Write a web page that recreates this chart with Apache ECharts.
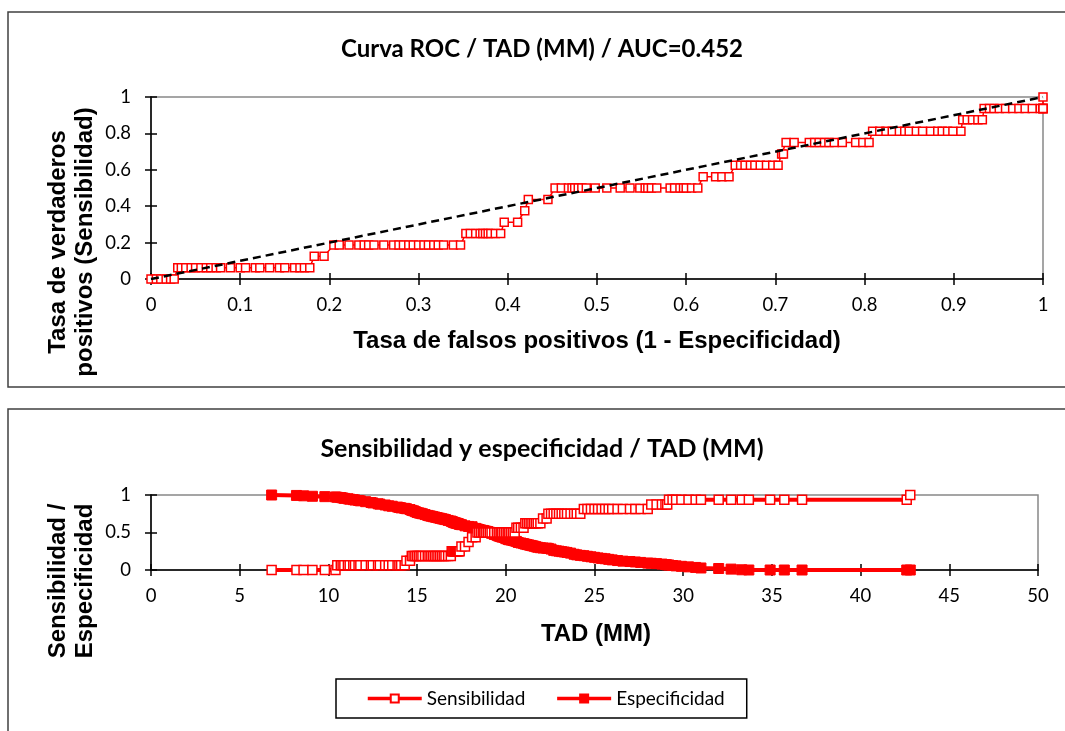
<!DOCTYPE html>
<html><head><meta charset="utf-8">
<script src="https://cdn.jsdelivr.net/npm/echarts@6/dist/echarts.min.js"></script>
<style>html,body{margin:0;padding:0;background:#fff}#c{width:1065px;height:731px}</style>
</head><body><div id="c"></div>
<script>
// TAD threshold (MM) for each cut point
const tad = [
  6.8, 8.2, 8.6, 9.1, 9.8, 10.4,
  10.5, 10.7, 10.8, 10.9, 11.1, 11.2, 11.4, 11.5, 11.7, 11.8, 12.1, 12.4, 12.5, 12.8, 12.9, 13.2, 13.4, 13.6, 13.9, 14.0, 14.1, 14.3,
  14.4, 14.6,
  14.7, 14.8, 14.9, 15.0, 15.1, 15.2, 15.3, 15.45, 15.6, 15.7, 15.8, 15.9, 16.0, 16.1, 16.2, 16.3, 16.4, 16.5, 16.6, 16.75, 16.9,
  16.95, 17.0, 17.05, 17.1, 17.15, 17.2, 17.25, 17.3, 17.35, 17.4,
  17.5, 17.7,
  17.9,
  18.1, 18.3,
  18.4, 18.5, 18.6, 18.7, 18.75, 18.8, 18.9, 19.0, 19.1, 19.2, 19.35, 19.5, 19.6, 19.7, 19.75, 19.8, 19.9, 20.0, 20.1, 20.15, 20.2, 20.3, 20.4, 20.5,
  20.6, 20.7, 20.85, 21.0,
  21.1, 21.2, 21.3, 21.4, 21.5, 21.6, 21.7, 21.8, 21.95,
  22.1, 22.3,
  22.4, 22.55, 22.7, 22.85, 23.0, 23.15, 23.3, 23.45, 23.65, 23.85, 24.0, 24.2,
  24.4, 24.6, 24.8, 25.0, 25.2, 25.4, 25.6, 25.8, 26.0, 26.3, 26.6, 27.0, 27.3, 27.6, 28.0,
  28.2, 28.5, 28.8, 29.0, 29.1,
  29.2, 29.4, 29.6, 29.9, 30.3, 30.7, 31.0, 32.0, 32.7, 33.3, 33.7, 34.9, 35.7, 36.7, 42.6,
  42.8
];
const sens = [
  0, 0, 0, 0, 0, 0,
  0.0625, 0.0625, 0.0625, 0.0625, 0.0625, 0.0625, 0.0625, 0.0625, 0.0625, 0.0625, 0.0625, 0.0625, 0.0625, 0.0625, 0.0625, 0.0625, 0.0625, 0.0625, 0.0625, 0.0625, 0.0625, 0.0625,
  0.125, 0.125,
  0.1875, 0.1875, 0.1875, 0.1875, 0.1875, 0.1875, 0.1875, 0.1875, 0.1875, 0.1875, 0.1875, 0.1875, 0.1875, 0.1875, 0.1875, 0.1875, 0.1875, 0.1875, 0.1875, 0.1875, 0.1875,
  0.25, 0.25, 0.25, 0.25, 0.25, 0.25, 0.25, 0.25, 0.25, 0.25,
  0.3125, 0.3125,
  0.375,
  0.4375, 0.4375,
  0.5, 0.5, 0.5, 0.5, 0.5, 0.5, 0.5, 0.5, 0.5, 0.5, 0.5, 0.5, 0.5, 0.5, 0.5, 0.5, 0.5, 0.5, 0.5, 0.5, 0.5, 0.5, 0.5, 0.5,
  0.5625, 0.5625, 0.5625, 0.5625,
  0.625, 0.625, 0.625, 0.625, 0.625, 0.625, 0.625, 0.625, 0.625,
  0.6875, 0.6875,
  0.75, 0.75, 0.75, 0.75, 0.75, 0.75, 0.75, 0.75, 0.75, 0.75, 0.75, 0.75,
  0.8125, 0.8125, 0.8125, 0.8125, 0.8125, 0.8125, 0.8125, 0.8125, 0.8125, 0.8125, 0.8125, 0.8125, 0.8125, 0.8125, 0.8125,
  0.875, 0.875, 0.875, 0.875, 0.875,
  0.9375, 0.9375, 0.9375, 0.9375, 0.9375, 0.9375, 0.9375, 0.9375, 0.9375, 0.9375, 0.9375, 0.9375, 0.9375, 0.9375, 0.9375,
  1
];
const spec = [
  1, 0.994, 0.989, 0.983, 0.978, 0.974,
  0.97, 0.966, 0.961, 0.955, 0.95, 0.944, 0.938, 0.933, 0.927, 0.922, 0.911, 0.9, 0.894, 0.883, 0.878, 0.867, 0.856, 0.85, 0.839, 0.833, 0.828, 0.822,
  0.817, 0.806,
  0.795, 0.789, 0.778, 0.767, 0.761, 0.756, 0.75, 0.739, 0.728, 0.722, 0.717, 0.711, 0.706, 0.7, 0.694, 0.689, 0.683, 0.678, 0.672, 0.661, 0.653,
  0.647, 0.642, 0.636, 0.631, 0.628, 0.625, 0.622, 0.619, 0.614, 0.608,
  0.604, 0.589,
  0.581,
  0.577, 0.555,
  0.547, 0.54, 0.532, 0.528, 0.525, 0.521, 0.517, 0.512, 0.502, 0.489, 0.474, 0.463, 0.452, 0.446, 0.443, 0.439, 0.433, 0.418, 0.413, 0.407, 0.403, 0.4, 0.394, 0.387,
  0.381, 0.367, 0.36, 0.352,
  0.345, 0.339, 0.334, 0.328, 0.323, 0.317, 0.31, 0.303, 0.297,
  0.293, 0.291,
  0.288, 0.279, 0.262, 0.256, 0.251, 0.245, 0.24, 0.234, 0.225, 0.21, 0.202, 0.195,
  0.191, 0.183, 0.176, 0.169, 0.161, 0.155, 0.15, 0.142, 0.135, 0.126, 0.118, 0.113, 0.107, 0.101, 0.092,
  0.09, 0.085, 0.079, 0.073, 0.068,
  0.066, 0.06, 0.055, 0.049, 0.042, 0.034, 0.027, 0.02, 0.012, 0.003, 0, 0, 0, 0, 0,
  0
];
const diagX = [0, 1];
const diagY = [0, 1];
const rocTitle = 'Curva ROC / TAD (MM) / AUC=0.452';
const ssTitle = 'Sensibilidad y especificidad / TAD (MM)';
const seriesNames = ['Sensibilidad', 'Especificidad'];

const RED = '#ff0000';
const tickFont = 'Lato';
const fmt = v => String(Number(v.toFixed(2)));

function axisPair(kind, grid, min, max, interval, labelMargin) {
  const main = {
    type: 'value', gridIndex: grid, min, max, interval,
    axisLine: { show: true, onZero: false, lineStyle: { color: '#000', width: 1.5 } },
    axisTick: { show: true, inside: false, length: 6, lineStyle: { color: '#000', width: 1.5 } },
    axisLabel: { show: true, margin: labelMargin, color: '#000', fontFamily: tickFont, fontSize: 18.5, formatter: fmt },
    splitLine: { show: false }
  };
  const inner = {
    type: 'value', gridIndex: grid, min, max, interval,
    position: kind === 'x' ? 'bottom' : 'left',
    axisLine: { show: false, onZero: false },
    axisTick: { show: true, inside: true, length: 6, lineStyle: { color: '#000', width: 1.5 } },
    axisLabel: { show: false },
    splitLine: { show: false }
  };
  return [main, inner];
}

const xAxes = [
  ...axisPair('x', 0, 0, 1, 0.1, 17),
  ...axisPair('x', 1, 0, 50, 5, 17)
];
const yAxes = [
  ...axisPair('y', 0, 0, 1, 0.2, 20),
  ...axisPair('y', 1, 0, 1, 0.5, 20)
];

const rocData = spec.map((s, i) => [Number((1 - s).toFixed(4)), sens[i]]);
const diagData = diagX.map((x, i) => [x, diagY[i]]);
const sensData = tad.map((t, i) => [t, sens[i]]);
const specData = tad.map((t, i) => [t, spec[i]]);

const chart = echarts.init(document.getElementById('c'));
chart.setOption({
  animation: false,
  backgroundColor: '#fff',
  grid: [
    { left: 151, right: 22, top: 97, height: 182, show: true, borderColor: '#888', borderWidth: 1.5, backgroundColor: 'transparent' },
    { left: 151, right: 27, top: 495, height: 75, show: true, borderColor: '#888', borderWidth: 1.5, backgroundColor: 'transparent' }
  ],
  xAxis: xAxes,
  yAxis: yAxes,
  legend: {
    data: seriesNames,
    left: 336, top: 679,
    padding: [10, 22, 10, 30],
    itemGap: 30, itemWidth: 54, itemHeight: 10,
    borderColor: '#000', borderWidth: 1.5,
    lineStyle: { width: 3.5, color: RED },
    textStyle: { fontFamily: 'Lato', fontSize: 19, color: '#000' }
  },
  series: [
    {
      type: 'line', xAxisIndex: 0, yAxisIndex: 0, data: rocData,
      symbol: 'rect', symbolSize: 8, showAllSymbol: true,
      lineStyle: { color: RED, width: 1.5 },
      itemStyle: { color: '#fff', borderColor: RED, borderWidth: 1.5 },
      z: 2
    },
    {
      type: 'line', xAxisIndex: 0, yAxisIndex: 0, data: diagData,
      symbol: 'none', lineStyle: { color: '#000', width: 2.5, type: [8, 5] }, z: 3
    },
    {
      name: 'Especificidad', type: 'line', xAxisIndex: 2, yAxisIndex: 2, data: specData,
      symbol: 'rect', symbolSize: 10, showAllSymbol: true,
      lineStyle: { color: RED, width: 4 },
      itemStyle: { color: RED, borderColor: RED, borderWidth: 1 },
      z: 2
    },
    {
      name: 'Sensibilidad', type: 'line', xAxisIndex: 2, yAxisIndex: 2, data: sensData,
      symbol: 'rect', symbolSize: 9, showAllSymbol: true,
      lineStyle: { color: RED, width: 4 },
      itemStyle: { color: '#fff', borderColor: RED, borderWidth: 1.5 },
      z: 3
    }
  ],
  graphic: [
    { type: 'rect', shape: { x: 8, y: 12, width: 1080, height: 375 }, style: { fill: 'none', stroke: '#404040', lineWidth: 1.5 }, silent: true },
    { type: 'rect', shape: { x: 8, y: 409, width: 1080, height: 340 }, style: { fill: 'none', stroke: '#404040', lineWidth: 1.5 }, silent: true },
    { type: 'text', x: 542, y: 49, style: { text: rocTitle, font: 'bold 24px Lato', fill: '#000', align: 'center', verticalAlign: 'middle' } },
    { type: 'text', x: 597, y: 341, style: { text: 'Tasa de falsos positivos (1 - Especificidad)', font: 'bold 24px "Liberation Sans"', fill: '#000', align: 'center', verticalAlign: 'middle' } },
    { type: 'text', x: 72, y: 242, rotation: Math.PI / 2, style: { text: 'Tasa de verdaderos\npositivos (Sensibilidad)', font: 'bold 24px "Liberation Sans"', lineHeight: 27, fill: '#000', align: 'center', verticalAlign: 'middle' } },
    { type: 'text', x: 542, y: 449, style: { text: ssTitle, font: 'bold 25px Lato', fill: '#000', align: 'center', verticalAlign: 'middle' } },
    { type: 'text', x: 596, y: 634, style: { text: 'TAD (MM)', font: 'bold 24px "Liberation Sans"', fill: '#000', align: 'center', verticalAlign: 'middle' } },
    { type: 'text', x: 72, y: 581, rotation: Math.PI / 2, style: { text: 'Sensibilidad /\nEspecificidad', font: 'bold 24px "Liberation Sans"', lineHeight: 27, fill: '#000', align: 'center', verticalAlign: 'middle' } }
  ]
});
</script></body></html>
